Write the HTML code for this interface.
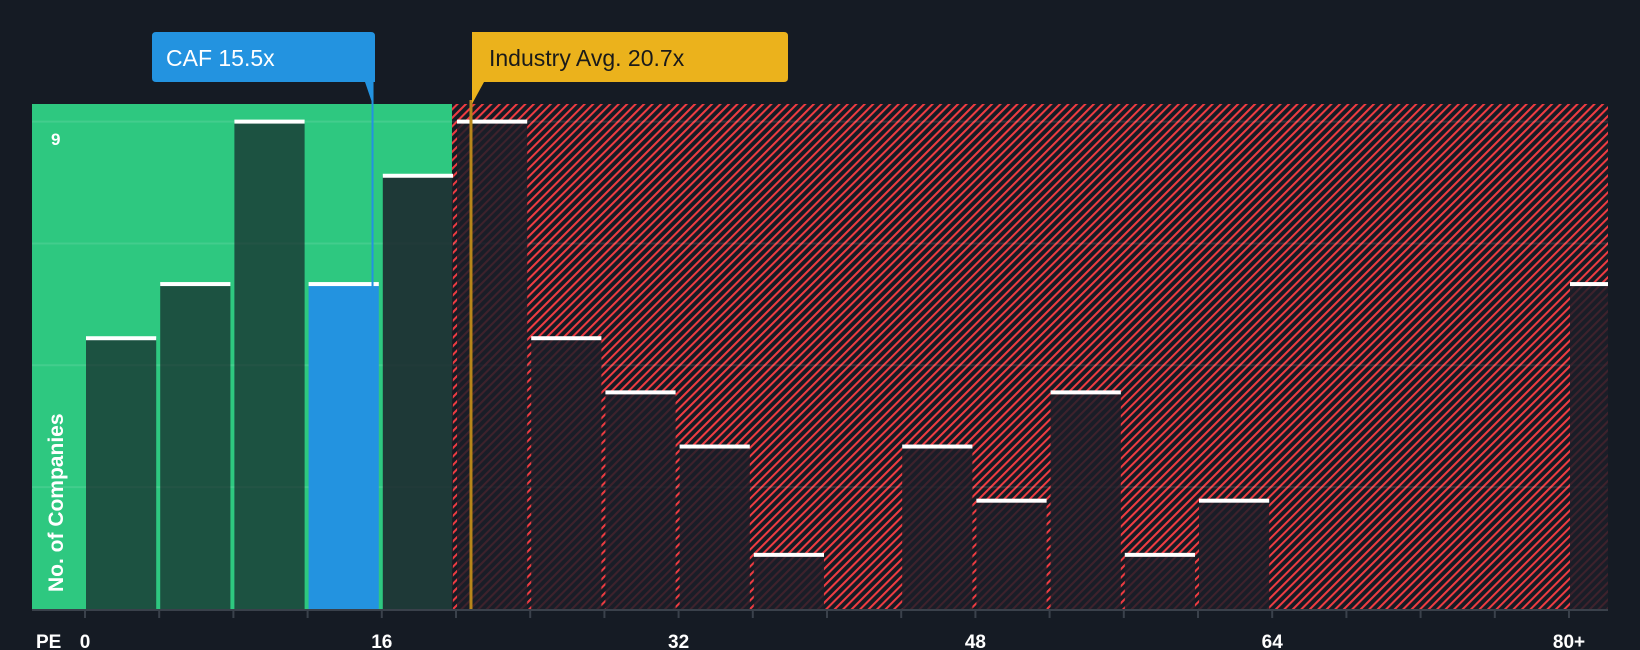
<!DOCTYPE html>
<html><head><meta charset="utf-8"><style>
html,body{margin:0;padding:0;background:#151b24;}
svg{display:block;font-family:"Liberation Sans",sans-serif;}
</style></head><body>
<svg id="chart" width="1640" height="650" viewBox="0 0 1640 650">
<defs>
<pattern id="hatch" patternUnits="userSpaceOnUse" width="6" height="6" patternTransform="rotate(45)">
<rect width="6" height="6" fill="#151b24"/>
<line x1="1" y1="0" x2="1" y2="6" stroke="#ee3c42" stroke-width="2.1"/>
</pattern>
</defs>
<g id="bg"></g>
<g id="grid"></g>
<g id="bars"></g>
<g id="axis"></g>
<g id="ann"></g>
</svg>
<script>
const binStarts=[0,4,8,12,16,20,24,28,32,36,40,44,48,52,56,60,64,68,72,76,80];
const counts=[5,6,9,6,8,9,5,4,3,1,0,3,2,4,1,2,0,0,0,0,6];
const xTicks=[0,16,32,48,64,80];
const xTickLabels=["0","16","32","48","64","80+"];
const companyPE=15.5;
const industryPE=20.7;
const yMax=9;
const NS="http://www.w3.org/2000/svg";
const x0=85,pxPerUnit=18.55,yBase=609,yTop=121.6,plotL=32,plotR=1608,plotT=104;
const xs=v=>x0+v*pxPerUnit;
const ys=v=>yBase-(yBase-yTop)*v/yMax;
function mk(tag,attrs,parent){const e=document.createElementNS(NS,tag);for(const k in attrs)e.setAttribute(k,attrs[k]);document.getElementById(parent).appendChild(e);return e;}
const split=xs(industryPE)-17;
let e;
e=mk('rect',{x:plotL,y:plotT,width:split-plotL,height:yBase-plotT,fill:'#2ec880'},'bg');


e=mk('rect',{x:split,y:plotT,width:plotR-split,height:yBase-plotT,fill:'url(#hatch)'},'bg');


for(let i=1;i<=4;i++){const v=yMax*i/4;
e=mk('line',{x1:plotL,x2:plotR,y1:ys(v),y2:ys(v),stroke:'rgba(255,255,255,0.1)','stroke-width':2},'grid');

}
binStarts.forEach((b,i)=>{const c=counts[i];if(!c)return;
const last=i===binStarts.length-1;
const xa=xs(b)+1,xb=last?plotR:xs(b+4)-3;
const inCompany=companyPE>=b&&companyPE<b+4;
const green=xb<=split+1;
const fill=inCompany?'#2393e0':(green?'rgba(21,27,36,0.68)':'rgba(28,30,40,0.84)');
e=mk('rect',{x:xa,y:ys(c),width:xb-xa,height:yBase-ys(c),fill:fill},'bars');


e=mk('rect',{x:xa,y:ys(c)-2,width:xb-xa,height:4,fill:'#ffffff'},'bars');

});
e=mk('line',{x1:plotL,x2:plotR,y1:yBase+1,y2:yBase+1,stroke:'#3a414b','stroke-width':2},'axis');


binStarts.forEach(b=>{e=mk('line',{x1:xs(b),x2:xs(b),y1:yBase,y2:yBase+9,stroke:'#3a414b','stroke-width':2},'axis');

});
xTicks.forEach((t,i)=>{e=mk('text',{x:xs(t),y:648,'text-anchor':'middle',fill:'#fff','font-size':19,'font-weight':'bold'},'axis');e.textContent=xTickLabels[i];

});
e=mk('text',{x:36,y:648,fill:'#fff','font-size':19,'font-weight':'bold'},'axis');e.textContent='PE';


e=mk('text',{x:51,y:145,fill:'#fff','font-size':17,'font-weight':'bold'},'axis');e.textContent=String(yMax);


e=mk('text',{x:0,y:0,fill:'#fff','font-size':21,'font-weight':'bold',transform:'translate(63,592) rotate(-90)'},'axis');e.textContent='No. of Companies';


const cx=xs(companyPE),ix=xs(industryPE)+2;
e=mk('line',{x1:cx,x2:cx,y1:82,y2:yBase,stroke:'#2393e0','stroke-width':2},'ann');


e=mk('path',{d:`M152 36 q0-4 4-4 h215 q4 0 4 4 v46 h-10 l${cx-365} 22 v-22 H156 q-4 0-4-4 z`,fill:'#2393e0'},'ann');


e=mk('text',{x:166,y:66,fill:'#fff','font-size':23},'ann');e.textContent='CAF '+companyPE+'x';


e=mk('line',{x1:ix,x2:ix,y1:100,y2:yBase,stroke:'#b8861a','stroke-width':3},'ann');


e=mk('path',{d:`M471 32 h313 q4 0 4 4 v42 q0 4-4 4 H484 l-12 22 v-72 z`,fill:'#ebb21c'},'ann');


e=mk('text',{x:489,y:66,fill:'#1a1a1a','font-size':23},'ann');e.textContent='Industry Avg. '+industryPE+'x';


</script>
</body></html>
